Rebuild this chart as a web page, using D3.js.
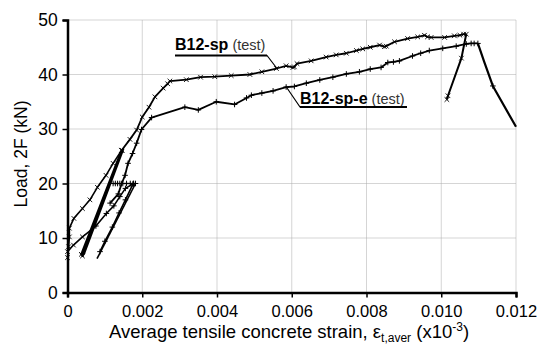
<!DOCTYPE html>
<html>
<head>
<meta charset="utf-8">
<script src="https://cdn.jsdelivr.net/npm/d3@7/dist/d3.min.js"></script>
<style>
  body { margin: 0; background: #fff; }
  svg { font-family: "Liberation Sans", Arial, Helvetica, sans-serif; }
</style>
</head>
<body>
<svg id="chart"></svg>
<script>
// axis ticks
var xTicks = [0, 0.002, 0.004, 0.006, 0.008, 0.010, 0.012];
var yTicks = [0, 10, 20, 30, 40, 50];

// B12-sp (test) - "x" markers [strain, load kN]
var spFirstLoad = [[0, 6.4], [0.00003, 8.4], [0.00005, 10.2], [0.00005, 11.8], [0.00017, 13.6],
  [0.0004, 15.4], [0.0006, 17.0], [0.0008, 19.3], [0.00103, 21.5], [0.00122, 23.7], [0.00145, 26.1]];
// repeated unload/reload cycles (drawn as one heavy band)
var spCycles = [[0.00145, 26.1], [0.00037, 7.0], [0.00146, 25.9], [0.0004, 6.7],
  [0.00149, 26.3], [0.00044, 7.1], [0.00143, 25.8], [0.00042, 6.9], [0.00147, 26.0]];
var spMain = [[0.00145, 26.1], [0.00167, 28.1], [0.00185, 29.8], [0.002, 32.2], [0.00218, 34.0],
  [0.00234, 35.9], [0.00256, 37.5], [0.00268, 38.3], [0.00274, 38.8], [0.00318, 39.05],
  [0.00356, 39.5], [0.00394, 39.6], [0.00438, 39.8], [0.00488, 40.0], [0.0052, 40.5],
  [0.00559, 41.1], [0.00585, 41.6], [0.00603, 41.3], [0.00607, 41.4], [0.00614, 42.0],
  [0.00652, 42.5], [0.00692, 43.2], [0.00719, 43.6], [0.00746, 43.9], [0.00773, 44.4],
  [0.0079, 44.7], [0.0081, 45.0], [0.00835, 45.4], [0.00848, 45.1], [0.00853, 45.2],
  [0.00875, 46.0], [0.0091, 46.6], [0.00937, 46.9], [0.00955, 47.2], [0.00963, 46.9],
  [0.00973, 46.8], [0.01009, 46.8], [0.01035, 47.1], [0.0105, 47.2], [0.0106, 47.4], [0.01067, 47.4]];
var spUnload = [[0.01067, 47.4], [0.01065, 46.8], [0.01054, 43.0], [0.01018, 36.1], [0.01015, 35.4]];

// B12-sp-e (test) - "+" markers
var speFirstLoad = [[0, 7.5], [0.00016, 8.7], [0.0004, 10.2], [0.00076, 12.2], [0.00104, 14.5],
  [0.00124, 15.9], [0.0014, 17.6], [0.00155, 19.1], [0.00177, 20.0], [0.00182, 20.0]];
var speUnload = [[0.00182, 20.0], [0.00079, 6.2]];
var speReload = [[0.00087, 7.5], [0.001, 9.4], [0.0012, 12.0], [0.00138, 14.6], [0.00155, 17.0], [0.00175, 19.9]];
var speHold = [[0.00122, 20], [0.00128, 20], [0.00134, 20], [0.0014, 20], [0.00148, 20],
  [0.00158, 20], [0.00168, 20], [0.00176, 20]];
var speMain = [[0.00114, 16.4], [0.00136, 18.1], [0.00145, 20.0], [0.00154, 21.5], [0.00162, 23.7],
  [0.00174, 25.5], [0.00185, 27.4], [0.00198, 29.9], [0.00225, 32.1], [0.00314, 34.0],
  [0.0035, 33.5], [0.00398, 35.0], [0.00447, 34.5], [0.00479, 35.7], [0.00492, 36.2],
  [0.0052, 36.6], [0.0055, 37.0], [0.00585, 37.7], [0.00607, 37.8], [0.00639, 38.4],
  [0.00675, 39.0], [0.0071, 39.5], [0.00746, 40.1], [0.00781, 40.5], [0.0081, 41.0],
  [0.00839, 41.3], [0.00857, 42.2], [0.00872, 42.3], [0.00888, 42.5], [0.00923, 43.4],
  [0.00945, 43.9], [0.00968, 44.4], [0.01004, 44.8], [0.0104, 45.2], [0.01067, 45.6],
  [0.0108, 45.7], [0.01088, 45.7], [0.01098, 45.7]];
var speFailure = [[0.01098, 45.7], [0.01115, 42.3], [0.01138, 37.9], [0.012, 30.4]];

var width = 545, height = 346;
var svg = d3.select("#chart").attr("width", width).attr("height", height);

var x = d3.scaleLinear().domain([0, 0.012]).range([67.5, 516]);
var y = d3.scaleLinear().domain([0, 50]).range([292.5, 20]);

// grid
svg.append("g").selectAll("line").data(xTicks.slice(1)).join("line")
  .attr("x1", d => x(d)).attr("x2", d => x(d)).attr("y1", y(0)).attr("y2", y(50))
  .attr("stroke", "#aaa").attr("stroke-width", 1).attr("stroke-dasharray", "1,1");
svg.append("g").selectAll("line").data(yTicks.slice(1)).join("line")
  .attr("x1", x(0)).attr("x2", x(0.012)).attr("y1", d => y(d)).attr("y2", d => y(d))
  .attr("stroke", "#aaa").attr("stroke-width", 1).attr("stroke-dasharray", "1,1");

// axes
var xAxis = svg.append("g").attr("transform", "translate(0," + y(0) + ")")
  .call(d3.axisBottom(x).tickValues(xTicks).tickSizeOuter(0).tickSize(5)
    .tickFormat(d => d === 0 ? "0" : d3.format(".3f")(d)));
var yAxis = svg.append("g").attr("transform", "translate(" + x(0) + ",0)")
  .call(d3.axisLeft(y).tickValues(yTicks).tickSizeOuter(0).tickSize(5).tickFormat(d3.format("d")));
[xAxis, yAxis].forEach(function(a) {
  a.select(".domain").attr("stroke", "#000").attr("stroke-width", 2.5);
  a.selectAll(".tick line").attr("stroke", "#000").attr("stroke-width", 1.5);
  a.selectAll("text").attr("fill", "#000")
    .attr("font-family", "'Liberation Sans', Arial, sans-serif");
});
xAxis.selectAll("text").attr("font-size", 16.5).attr("dy", "1.0em");
yAxis.selectAll("text").attr("font-size", 17.5).attr("dx", "-0.1em");

// curves
var line = d3.line().x(d => x(d[0])).y(d => y(d[1]));
var g = svg.append("g");

function drawLine(data, w) {
  g.append("path").datum(data).attr("d", line).attr("fill", "none")
    .attr("stroke", "#000").attr("stroke-width", w).attr("stroke-linejoin", "round");
}
function drawCross(data) {
  g.append("g").selectAll("path").data(data).join("path")
    .attr("d", d => { var cx = x(d[0]), cy = y(d[1]), s = 2.3;
      return "M" + (cx - s) + "," + (cy - s) + "L" + (cx + s) + "," + (cy + s) +
             "M" + (cx - s) + "," + (cy + s) + "L" + (cx + s) + "," + (cy - s); })
    .attr("stroke", "#000").attr("stroke-width", 0.9).attr("fill", "none");
}
function drawPlus(data) {
  g.append("g").selectAll("path").data(data).join("path")
    .attr("d", d => { var cx = x(d[0]), cy = y(d[1]), s = 2.8;
      return "M" + (cx - s) + "," + cy + "L" + (cx + s) + "," + cy +
             "M" + cx + "," + (cy - s) + "L" + cx + "," + (cy + s); })
    .attr("stroke", "#000").attr("stroke-width", 1).attr("fill", "none");
}

// B12-sp
drawLine(spFirstLoad, 1.6); drawCross(spFirstLoad);
drawLine(spCycles, 2.2); drawCross([spCycles[0], spCycles[1], spCycles[3]]);
drawLine(spMain, 1.8); drawCross(spMain);
drawLine(spUnload, 2); drawCross(spUnload.slice(2));

// B12-sp-e
drawLine(speFirstLoad, 1.6); drawCross(speFirstLoad.slice(0, 3)); drawPlus(speFirstLoad.slice(3));
drawLine(speUnload, 1.6);
drawLine(speReload, 1.6); drawPlus(speReload);
drawLine(speHold, 1.4); drawPlus(speHold);
drawLine(speMain, 1.8); drawPlus(speMain);
drawLine(speFailure, 2.2); drawPlus([speFailure[2]]);

// labels
var lab1 = svg.append("text").attr("x", 175).attr("y", 50);
lab1.append("tspan").attr("font-weight", "bold").attr("font-size", 16).text("B12-sp");
lab1.append("tspan").attr("font-size", 14.5).attr("fill", "#333").text(" (test)");
svg.append("path").attr("d", "M175,55.5L267,55.5L277,68.5").attr("fill", "none")
  .attr("stroke", "#000").attr("stroke-width", 1.2);
svg.append("line").attr("x1", 175).attr("x2", 267).attr("y1", 55.5).attr("y2", 55.5)
  .attr("stroke", "#000").attr("stroke-width", 2.2);

var lab2 = svg.append("text").attr("x", 300).attr("y", 104);
lab2.append("tspan").attr("font-weight", "bold").attr("font-size", 16).text("B12-sp-e");
lab2.append("tspan").attr("font-size", 14.5).attr("fill", "#333").text(" (test)");
svg.append("path").attr("d", "M407,107L300,107L287,88").attr("fill", "none")
  .attr("stroke", "#000").attr("stroke-width", 1.2);
svg.append("line").attr("x1", 300).attr("x2", 407).attr("y1", 107).attr("y2", 107)
  .attr("stroke", "#000").attr("stroke-width", 2.2);

// axis titles
var xt = svg.append("text").attr("x", 289).attr("y", 338).attr("text-anchor", "middle")
  .attr("font-size", 18.5);
xt.append("tspan").text("Average tensile concrete strain, \u03b5");
xt.append("tspan").attr("font-size", 12).attr("dy", 4).text("t,aver");
xt.append("tspan").attr("dy", -4).text(" (x10");
xt.append("tspan").attr("font-size", 12).attr("dy", -7).text("-3");
xt.append("tspan").attr("dy", 7).text(")");

svg.append("text").attr("transform", "translate(27,154) rotate(-90)")
  .attr("text-anchor", "middle").attr("font-size", 17.5).text("Load, 2F (kN)");
</script>
</body>
</html>
